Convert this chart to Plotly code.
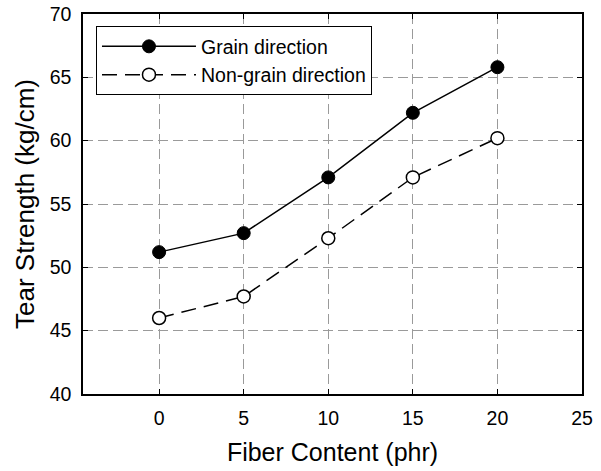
import plotly.graph_objects as go

# Fiber loading (phr) and measured tear strength (kg/cm)
fiber_content = [0, 5, 10, 15, 20]
grain_direction = [51.2, 52.7, 57.1, 62.2, 65.8]
non_grain_direction = [46.0, 47.7, 52.3, 57.1, 60.2]

x_ticks = [0, 5, 10, 15, 20, 25]
y_ticks = [40, 45, 50, 55, 60, 65, 70]

FONT = "Arial, 'Liberation Sans', sans-serif"

fig = go.Figure()

fig.add_trace(go.Scatter(
    x=fiber_content, y=grain_direction, name="Grain direction",
    mode="lines+markers",
    line=dict(color="black", width=1.5),
    marker=dict(symbol="circle", size=13, color="black",
                line=dict(color="black", width=1)),
))

fig.add_trace(go.Scatter(
    x=fiber_content, y=non_grain_direction, name="Non-grain direction",
    mode="lines+markers",
    line=dict(color="black", width=1.5, dash="15px,8px"),
    marker=dict(symbol="circle", size=13, color="white",
                line=dict(color="black", width=1.5)),
))

axis_common = dict(
    automargin=False,
    showline=True, linecolor="black", linewidth=1.5, mirror="ticks",
    ticks="inside", ticklen=5, tickwidth=1, tickcolor="black",
    showgrid=True, gridcolor="#9a9a9a", gridwidth=1, griddash="10px,5px",
    zeroline=False,
    tickfont=dict(family=FONT, size=19.5, color="black"),
)

fig.update_xaxes(
    range=[-4.5, 25], tickvals=x_ticks, ticklabelstandoff=6,
    title=dict(text="Fiber Content (phr)", font=dict(family=FONT, size=25, color="black"),
               standoff=15),
    **axis_common,
)
fig.update_yaxes(
    range=[40, 70], tickvals=y_ticks, ticklabelstandoff=6,
    title=dict(text="Tear Strength (kg/cm)", font=dict(family=FONT, size=26, color="black"),
               standoff=8),
    **axis_common,
)

fig.update_layout(
    width=601, height=471,
    margin=dict(l=83, r=19, t=14, b=77),
    paper_bgcolor="white", plot_bgcolor="white",
    font=dict(family=FONT, color="black"),
    showlegend=True,
    legend=dict(
        x=0.026, y=0.968, xanchor="left", yanchor="top",
        bgcolor="white", bordercolor="black", borderwidth=1,
        font=dict(family=FONT, size=19.5, color="black"),
        itemwidth=94, tracegroupgap=0,
    ),
)

fig.write_html("out.html")
